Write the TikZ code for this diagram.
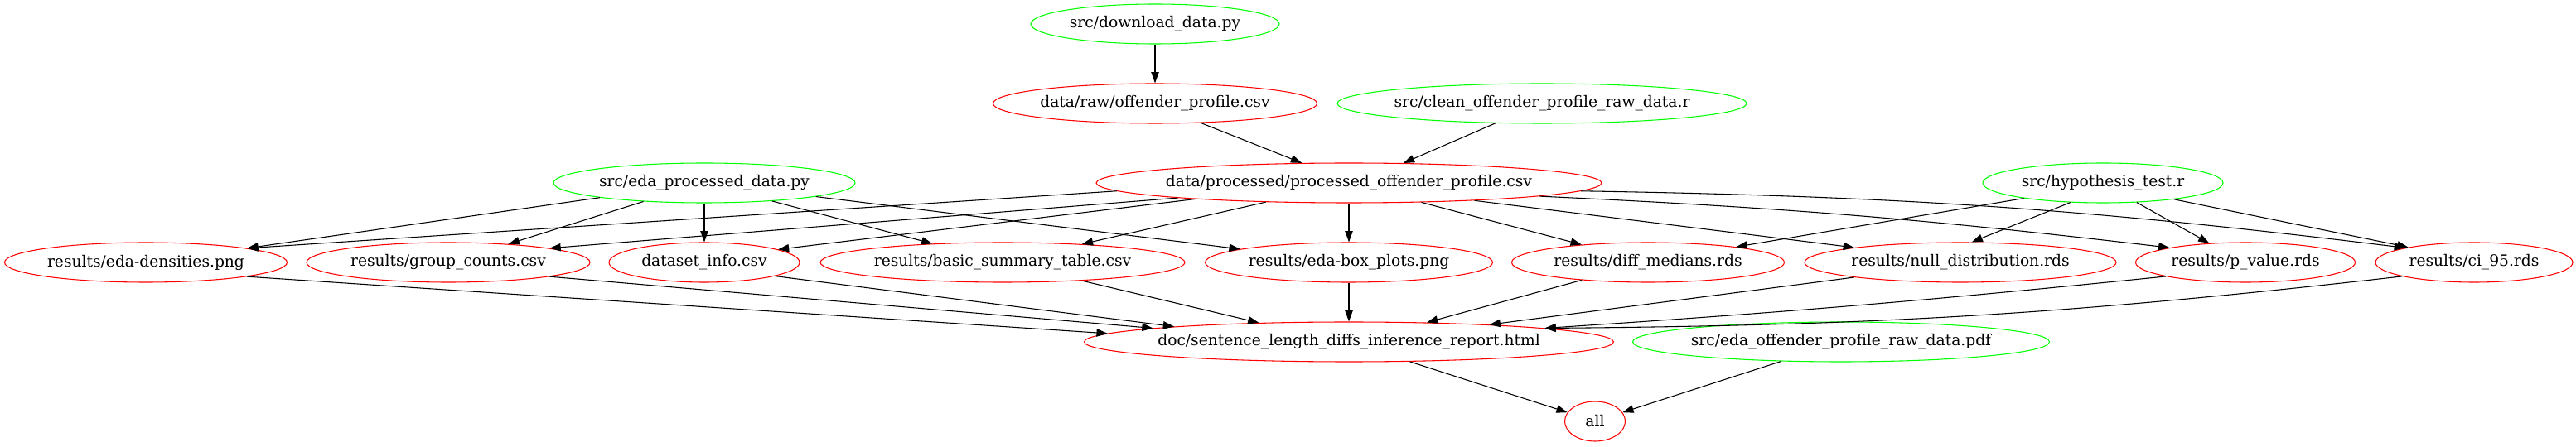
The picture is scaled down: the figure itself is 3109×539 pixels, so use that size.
\documentclass[tikz,border=0pt]{standalone}
\usepackage{fontspec}
\setmainfont{DejaVu Serif}
\usetikzlibrary{shapes.geometric,arrows.meta}
\definecolor{gvred}{RGB}{255,0,0}
\definecolor{gvgreen}{RGB}{0,255,0}
\tikzset{
  gnode/.style={ellipse, draw, line width=0.8pt, minimum height=36pt, inner sep=0pt,
    font=\fontsize{14pt}{16pt}\selectfont},
  rednode/.style={gnode, draw=gvred},
  greennode/.style={gnode, draw=gvgreen},
  edgearrow/.style={-{Triangle[length=10pt,width=7pt]}, line width=0.8pt, black}
}
\begin{document}
\begin{tikzpicture}[x=0.75pt,y=0.75pt]
\useasboundingbox (0,0) rectangle (3109,539);
% row 0
\node[greennode, minimum width=225pt] (download) at (1394,510) {\makebox[0pt]{src/download\_data.py}};
% row 1
\node[rednode, minimum width=293.25pt] (raw) at (1394,414) {\makebox[0pt]{data/raw/offender\_profile.csv}};
\node[greennode, minimum width=370.5pt] (clean) at (1861,414) {\makebox[0pt]{src/clean\_offender\_profile\_raw\_data.r}};
% row 2
\node[greennode, minimum width=273pt] (edaproc) at (850,318) {\makebox[0pt]{src/eda\_processed\_data.py}};
\node[rednode, minimum width=457.5pt] (processed) at (1628,318) {\makebox[0pt]{data/processed/processed\_offender\_profile.csv}};
\node[greennode, minimum width=217.5pt] (hyp) at (2538,318) {\makebox[0pt]{src/hypothesis\_test.r}};
% row 3
\node[rednode, minimum width=255.75pt] (densities) at (176,222) {\makebox[0pt]{results/eda-densities.png}};
\node[rednode, minimum width=256.5pt] (groupcounts) at (541,222) {\makebox[0pt]{results/group\_counts.csv}};
\node[rednode, minimum width=172.5pt] (datasetinfo) at (850,222) {\makebox[0pt]{dataset\_info.csv}};
\node[rednode, minimum width=330pt] (basic) at (1210,222) {\makebox[0pt]{results/basic\_summary\_table.csv}};
\node[rednode, minimum width=260.25pt] (boxplots) at (1628,222) {\makebox[0pt]{results/eda-box\_plots.png}};
\node[rednode, minimum width=246.75pt] (diffmed) at (1989,222) {\makebox[0pt]{results/diff\_medians.rds}};
\node[rednode, minimum width=282pt] (nulldist) at (2366,222) {\makebox[0pt]{results/null\_distribution.rds}};
\node[rednode, minimum width=198.75pt] (pvalue) at (2710,222) {\makebox[0pt]{results/p\_value.rds}};
\node[rednode, minimum width=178.5pt] (ci95) at (2986,222) {\makebox[0pt]{results/ci\_95.rds}};
% row 4
\node[rednode, minimum width=479.25pt] (doc) at (1628,126) {\makebox[0pt]{doc/sentence\_length\_diffs\_inference\_report.html}};
\node[greennode, minimum width=377.25pt] (edapdf) at (2222,126) {\makebox[0pt]{src/eda\_offender\_profile\_raw\_data.pdf}};
% row 5
\node[rednode, minimum width=54.75pt] (all) at (1925,30) {\makebox[0pt]{all}};

% edges
\draw[edgearrow] (download.south) -- (raw.north);
\draw[edgearrow] (raw.-23) -- (processed.157);
\draw[edgearrow] (clean.-157) -- (processed.20);

\draw[edgearrow] (edaproc.-172) -- (densities.8);
\draw[edgearrow] (edaproc.-163) -- (groupcounts.17);
\draw[edgearrow] (edaproc.south) -- (datasetinfo.north);
\draw[edgearrow] (edaproc.-15) -- (basic.165);
\draw[edgearrow] (edaproc.-7) -- (boxplots.173);

\draw[edgearrow] (processed.-178) -- (densities.8);
\draw[edgearrow] (processed.-175) -- (groupcounts.8);
\draw[edgearrow] (processed.-174) -- (datasetinfo.10);
\draw[edgearrow] (processed.-167) -- (basic.13);
\draw[edgearrow] (processed.south) -- (boxplots.north);
\draw[edgearrow] (processed.-15) -- (diffmed.165);
\draw[edgearrow] (processed.-8) -- (nulldist.172);
\draw[edgearrow] (processed.-4) to[bend left=2] (pvalue.169);
\draw[edgearrow] (processed.-2) to[bend left=3] (ci95.168);

\draw[edgearrow] (hyp.-169) -- (diffmed.10);
\draw[edgearrow] (hyp.-149) -- (nulldist.61);
\draw[edgearrow] (hyp.-30) -- (pvalue.152);
\draw[edgearrow] (hyp.-13) -- (ci95.167);

\draw[edgearrow] (densities.-8) -- (doc.178);
\draw[edgearrow] (groupcounts.-8) -- (doc.176);
\draw[edgearrow] (datasetinfo.-11) -- (doc.175);
\draw[edgearrow] (basic.-13) -- (doc.168);
\draw[edgearrow] (boxplots.south) -- (doc.north);
\draw[edgearrow] (diffmed.-165) -- (doc.14);
\draw[edgearrow] (nulldist.-172) -- (doc.7);
\draw[edgearrow] (pvalue.-170) to[bend left=1] (doc.4);
\draw[edgearrow] (ci95.-169) to[bend left=3] (doc.4);

\draw[edgearrow] (doc.-18) -- (all.162);
\draw[edgearrow] (edapdf.-162) -- (all.18);
\end{tikzpicture}
\end{document}
